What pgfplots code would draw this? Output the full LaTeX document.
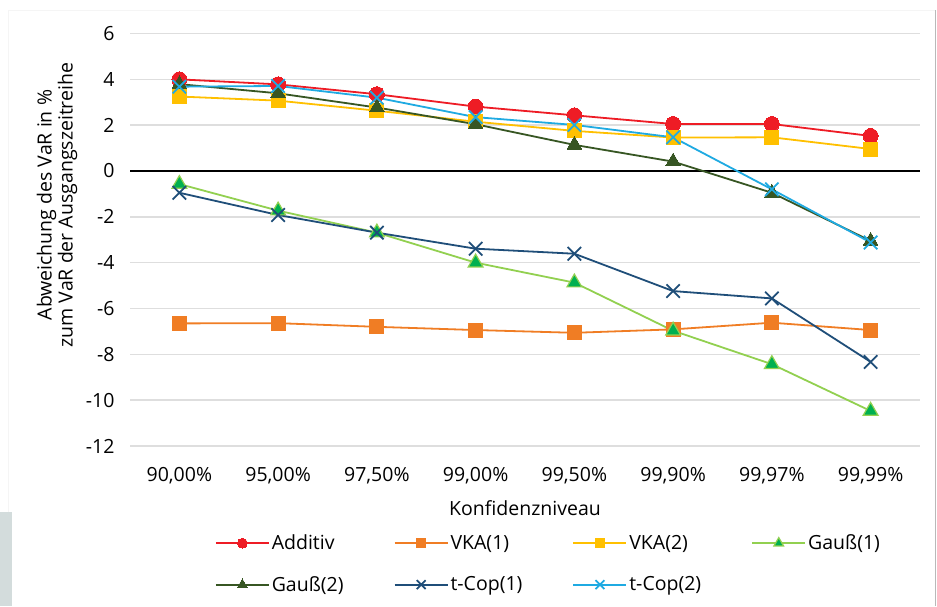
\documentclass[border=0pt]{standalone}
\usepackage{pgfplots}
\pgfplotsset{compat=1.18}
\usepackage{fontspec}
\setmainfont{Open Sans}
\definecolor{cAdd}{HTML}{EE1C25}
\definecolor{cVKA1}{HTML}{F07D24}
\definecolor{cVKA2}{HTML}{FFC000}
\definecolor{cG1}{HTML}{92D050}
\definecolor{cG1f}{HTML}{00B050}
\definecolor{cG2}{HTML}{375623}
\definecolor{cT1}{HTML}{1F4E79}
\definecolor{cT2}{HTML}{1FAAE2}
\definecolor{gridc}{HTML}{DEDEDE}
\begin{document}
\begin{tikzpicture}[x=1pt,y=1pt]
\useasboundingbox (0,0) rectangle (937,606);
\fill[white] (0,0) rectangle (937,606);
\fill[fill={rgb,255:red,211;green,220;blue,220}] (0,0) rectangle (12,94);
\draw[line width=1.5pt, gray!55] (935.5,0) -- (935.5,596);
\draw[line width=0.8pt, gray!8] (8,94) -- (8,596) -- (935,596);
\begin{axis}[
  at={(130pt,160pt)}, anchor=south west,
  scale only axis, width=790pt, height=412.5pt,
  xmin=-0.5, xmax=7.5, ymin=-12, ymax=6,
  xtick={0,...,7},
  xticklabels={{90,00\%},{95,00\%},{97,50\%},{99,00\%},{99,50\%},{99,90\%},{99,97\%},{99,99\%}},
  ytick={-12,-10,...,6},
  /pgf/number format/assume math mode=true,
  axis line style={draw=none},
  major tick length=0pt,
  ymajorgrids, grid style={color=gridc, line width=1.6pt},
  tick label style={font=\fontsize{19.5}{22}\selectfont, black},
  xticklabel style={yshift=-18pt},
  yticklabel style={xshift=-12pt},
  xlabel={Konfidenzniveau},
  xlabel style={at={(axis description cs:0.5,-0.150)}, anchor=center, font=\fontsize{19.5}{22}\selectfont},
  ylabel={Abweichung des VaR in \%\\zum VaR der Ausgangszeitreihe},
  ylabel style={at={(axis description cs:-0.0924,0.584)}, anchor=center, align=center, font=\fontsize{19.5}{21}\selectfont},
  clip=false,
  legend columns=4,
  legend style={at={(axis description cs:0.1035,-0.2055)}, anchor=north west, draw=none, fill=none,
     font=\fontsize{19.5}{22}\selectfont, row sep=21pt, column sep=0pt, nodes={inner sep=2pt}},
  legend cell align=left,
  legend image code/.code={\draw[#1, mark repeat=2, mark phase=2] plot coordinates {(0pt,0pt) (26.5pt,0pt) (53pt,0pt)};},
  legend image post style={every mark/.append style={scale=0.66}},
  every axis plot/.append style={line width=1.8pt},
]
\draw[black, line width=1.6pt] (axis cs:-0.5,0) -- (axis cs:7.5,0);
\pgfplotsinvokeforeach{-0.5,0.5,...,7.5}{\draw[black, line width=1.4pt] (axis cs:#1,0) ++(0,-5.5pt) -- ++(0,11pt);}
\addplot[cAdd, mark=*, mark size=7.5pt, mark options={fill=cAdd, draw=cAdd, line width=0pt}] coordinates {
 (0,4.00) (1,3.78) (2,3.35) (3,2.81) (4,2.43) (5,2.05) (6,2.05) (7,1.53)};
\addlegendentry{\makebox[120pt][l]{Additiv}}
\addplot[cVKA1, mark=square*, mark size=7pt, mark options={fill=cVKA1, draw=cVKA1, line width=0pt}] coordinates {
 (0,-6.65) (1,-6.64) (2,-6.80) (3,-6.94) (4,-7.06) (5,-6.91) (6,-6.62) (7,-6.94)};
\addlegendentry{\makebox[120pt][l]{VKA(1)}}
\addplot[cVKA2, mark=square*, mark size=7pt, mark options={fill=cVKA2, draw=cVKA2, line width=0pt}] coordinates {
 (0,3.25) (1,3.07) (2,2.63) (3,2.15) (4,1.75) (5,1.46) (6,1.47) (7,0.96)};
\addlegendentry{\makebox[120pt][l]{VKA(2)}}
\addplot[cG1, mark=triangle*, mark size=8.5pt, mark options={fill=cG1f, draw=cG1, line width=1.2pt}] coordinates {
 (0,-0.57) (1,-1.73) (2,-2.69) (3,-4.00) (4,-4.87) (5,-6.97) (6,-8.43) (7,-10.47)};
\addlegendentry{Gauß(1)}
\addplot[cG2, mark=triangle*, mark size=8.5pt, mark options={fill=cG2, draw=cG2, line width=0pt}] coordinates {
 (0,3.79) (1,3.39) (2,2.77) (3,2.04) (4,1.14) (5,0.41) (6,-0.95) (7,-3.05)};
\addlegendentry{\makebox[120pt][l]{Gauß(2)}}
\addplot[cT1, mark=x, mark size=9.5pt, mark options={draw=cT1, line width=1.8pt}] coordinates {
 (0,-0.95) (1,-1.92) (2,-2.69) (3,-3.39) (4,-3.61) (5,-5.24) (6,-5.56) (7,-8.33)};
\addlegendentry{\makebox[120pt][l]{t-Cop(1)}}
\addplot[cT2, mark=x, mark size=9.5pt, mark options={draw=cT2, line width=1.8pt}] coordinates {
 (0,3.68) (1,3.71) (2,3.20) (3,2.35) (4,2.01) (5,1.47) (6,-0.80) (7,-3.12)};
\addlegendentry{\makebox[120pt][l]{t-Cop(2)}}
\end{axis}
\end{tikzpicture}
\end{document}
